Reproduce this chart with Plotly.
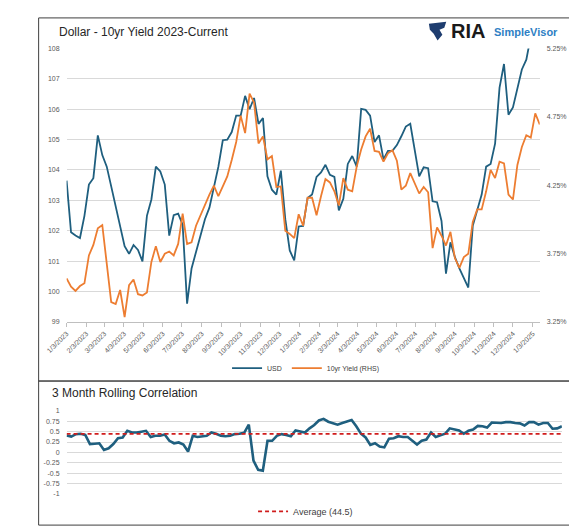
import pandas as pd
import plotly.graph_objects as go

# ---------------------------------------------------------------------------
# Data (weekly from 1/3/2023)
# ---------------------------------------------------------------------------
START_DATE = "2023-01-03"

USD = [
    103.65, 101.95, 101.84, 101.76, 102.49, 103.52, 103.73, 105.14, 104.49, 104.11,
    103.46, 102.83, 102.16, 101.49, 101.24, 101.53, 101.37, 100.99, 102.49, 103.03,
    104.11, 103.95, 103.52, 101.84, 102.51, 102.56, 102.20, 99.60, 100.76, 101.30,
    101.84, 102.38, 102.76, 103.41, 104.10, 104.98, 105.00, 105.25, 105.79, 105.79,
    106.44, 106.00, 106.37, 105.52, 105.71, 103.79, 103.35, 103.19, 103.98, 102.38,
    101.35, 101.02, 102.14, 102.16, 103.08, 103.19, 103.77, 103.92, 104.17, 103.84,
    103.77, 102.67, 103.05, 104.20, 104.46, 104.11, 106.01, 105.98, 105.79, 104.92,
    105.14, 104.35, 104.63, 104.63, 104.82, 105.11, 105.43, 105.52, 104.60, 103.79,
    104.09, 104.06, 102.97, 102.94, 102.32, 100.59, 101.62, 101.13, 100.76, 100.43,
    100.13, 102.16, 102.65, 103.19, 104.11, 104.20, 104.87, 106.71, 107.49, 105.82,
    106.06, 106.71, 107.31, 107.63, 108.40, 108.70, 109.30,
]

YIELD_10Y = [
    3.568, 3.508, 3.476, 3.512, 3.532, 3.736, 3.813, 3.934, 3.958, 3.664,
    3.394, 3.380, 3.483, 3.284, 3.519, 3.560, 3.452, 3.443, 3.464, 3.688,
    3.804, 3.688, 3.748, 3.765, 3.736, 3.820, 4.042, 3.820, 3.832, 3.953,
    4.030, 4.109, 4.181, 4.246, 4.169, 4.241, 4.314, 4.434, 4.566, 4.759,
    4.631, 4.920, 4.855, 4.555, 4.607, 4.439, 4.463, 4.237, 4.241, 3.917,
    3.893, 3.862, 4.037, 3.953, 4.158, 4.158, 4.030, 4.169, 4.295, 4.270,
    4.205, 4.102, 4.302, 4.217, 4.205, 4.386, 4.511, 4.607, 4.663, 4.501,
    4.494, 4.422, 4.483, 4.506, 4.429, 4.217, 4.246, 4.338, 4.266, 4.189,
    4.237, 4.198, 3.789, 3.941, 3.880, 3.808, 3.909, 3.717, 3.645, 3.724,
    3.748, 3.981, 4.073, 4.073, 4.205, 4.362, 4.302, 4.422, 4.410, 4.181,
    4.145, 4.398, 4.530, 4.615, 4.598, 4.776, 4.694,
]

CORR_3M = [
    0.41, 0.38, 0.44, 0.45, 0.42, 0.20, 0.21, 0.22, 0.06, 0.10,
    0.20, 0.34, 0.36, 0.52, 0.48, 0.48, 0.50, 0.52, 0.37, 0.40,
    0.40, 0.43, 0.28, 0.22, 0.24, 0.19, 0.02, 0.40, 0.37, 0.39,
    0.40, 0.48, 0.45, 0.40, 0.39, 0.40, 0.44, 0.45, 0.47, 0.67,
    -0.20, -0.42, -0.44, 0.28, 0.28, 0.40, 0.44, 0.42, 0.39, 0.53,
    0.50, 0.48, 0.58, 0.66, 0.77, 0.81, 0.74, 0.70, 0.67, 0.71,
    0.75, 0.78, 0.63, 0.45, 0.36, 0.18, 0.22, 0.14, 0.12, 0.33,
    0.34, 0.39, 0.37, 0.37, 0.28, 0.19, 0.28, 0.31, 0.48, 0.37,
    0.41, 0.45, 0.58, 0.55, 0.53, 0.45, 0.52, 0.55, 0.64, 0.63,
    0.60, 0.72, 0.71, 0.71, 0.73, 0.73, 0.71, 0.70, 0.65, 0.73,
    0.73, 0.67, 0.71, 0.71, 0.57, 0.58, 0.63,
]
CORR_AVG = 0.445

X_TICK_LABELS = [
    "1/3/2023", "2/3/2023", "3/3/2023", "4/3/2023", "5/3/2023", "6/3/2023",
    "7/3/2023", "8/3/2023", "9/3/2023", "10/3/2023", "11/3/2023", "12/3/2023",
    "1/3/2024", "2/3/2024", "3/3/2024", "4/3/2024", "5/3/2024", "6/3/2024",
    "7/3/2024", "8/3/2024", "9/3/2024", "10/3/2024", "11/3/2024", "12/3/2024",
    "1/3/2025",
]
USD_TICKS = [99, 100, 101, 102, 103, 104, 105, 106, 107, 108]
YIELD_TICKS = [3.25, 3.75, 4.25, 4.75, 5.25]
CORR_TICKS = [1, 0.75, 0.5, 0.25, 0, -0.25, -0.5, -0.75, -1]

# ---------------------------------------------------------------------------
# Style
# ---------------------------------------------------------------------------
W, H = 577, 528
FONT = "Liberation Sans, Arial, sans-serif"
BLUE = "#1f5f7f"
ORANGE = "#ed7d31"
RED = "#d01c1c"
GRID = "#d9d9d9"
TICK = "#595959"
FRAME = "#3f3f3f"


def px(x):
    return x / W


def py(y):
    return 1 - y / H


dates = pd.date_range(START_DATE, periods=len(USD), freq="7D")
tick_dates = pd.to_datetime(X_TICK_LABELS, format="%m/%d/%Y")
idx = list(range(len(CORR_3M)))

fig = go.Figure()
fig.add_trace(go.Scatter(
    x=dates, y=USD, name="USD", mode="lines",
    line=dict(color=BLUE, width=1.8),
    xaxis="x", yaxis="y", legend="legend",
))
fig.add_trace(go.Scatter(
    x=dates, y=YIELD_10Y, name="10yr Yield (RHS)", mode="lines",
    line=dict(color=ORANGE, width=1.8),
    xaxis="x", yaxis="y2", legend="legend",
))
fig.add_trace(go.Scatter(
    x=idx, y=CORR_3M, mode="lines", showlegend=False,
    line=dict(color=BLUE, width=2.6),
    xaxis="x2", yaxis="y3",
))
fig.add_trace(go.Scatter(
    x=[idx[0], idx[-1]], y=[CORR_AVG, CORR_AVG], name="Average (44.5)",
    mode="lines", line=dict(color=RED, width=1.8, dash="4px,3px"),
    xaxis="x2", yaxis="y3", legend="legend2",
))

tickfont = dict(family=FONT, size=7, color=TICK)

fig.update_layout(
    width=W, height=H, autosize=False,
    margin=dict(l=0, r=0, t=0, b=0),
    paper_bgcolor="white", plot_bgcolor="white",
    font=dict(family=FONT),
    xaxis=dict(
        domain=[px(39), px(530)], anchor="y", type="date",
        range=[dates[0], dates[-1]],
        tickvals=tick_dates, ticktext=X_TICK_LABELS, tickangle=-45,
        tickfont=tickfont, ticks="outside", ticklen=4, tickcolor="#bfbfbf",
        showline=True, linecolor="#bfbfbf", showgrid=False, zeroline=False,
    ),
    yaxis=dict(
        domain=[py(314), py(37)], anchor="x", range=[99, 108],
        tickvals=USD_TICKS, tickfont=tickfont, gridcolor=GRID,
        zeroline=False, showline=False, ticklabelstandoff=6,
    ),
    yaxis2=dict(
        overlaying="y", side="right", anchor="x", range=[3.25, 5.25],
        tickvals=YIELD_TICKS, ticktext=[f"{v:.2f}%" for v in YIELD_TICKS],
        tickfont=tickfont, showgrid=False, zeroline=False, showline=False,
        ticklabelstandoff=6,
    ),
    xaxis2=dict(
        domain=[px(39), px(553)], anchor="y3", range=[idx[0], idx[-1]],
        visible=False,
    ),
    yaxis3=dict(
        domain=[py(488.3), py(404.3)], anchor="x2", range=[-1, 1],
        tickvals=CORR_TICKS, ticktext=[f"{v:g}" for v in CORR_TICKS],
        tickfont=tickfont, gridcolor=GRID, zeroline=False, showline=False,
        ticklabelstandoff=6,
    ),
    legend=dict(
        orientation="h", x=px(287), xanchor="center", y=py(361), yanchor="middle",
        font=dict(family=FONT, size=7, color="#404040"), bgcolor="rgba(0,0,0,0)",
        itemwidth=30,
    ),
    legend2=dict(
        orientation="h", x=px(287), xanchor="center", y=py(506), yanchor="middle",
        font=dict(family=FONT, size=9, color="#404040"), bgcolor="rgba(0,0,0,0)",
        itemwidth=30,
    ),
    showlegend=True,
)

# panel frames
fig.add_shape(type="rect", xref="paper", yref="paper",
              x0=px(10), x1=px(562), y0=py(374), y1=py(6),
              line=dict(color=FRAME, width=1))
fig.add_shape(type="rect", xref="paper", yref="paper",
              x0=px(10), x1=px(563), y0=py(520), y1=py(374),
              line=dict(color=FRAME, width=1))

# titles
fig.add_annotation(text="Dollar - 10yr Yield 2023-Current", xref="paper", yref="paper",
                   x=px(29), y=py(20), xanchor="left", yanchor="middle", showarrow=False,
                   font=dict(family=FONT, size=12, color="#262626"))
fig.add_annotation(text="3 Month Rolling Correlation", xref="paper", yref="paper",
                   x=px(22), y=py(386), xanchor="left", yanchor="middle", showarrow=False,
                   font=dict(family=FONT, size=12, color="#262626"))

# logo: simple eagle-ish mark + text
pts = [(415, 12), (433, 10), (431, 16), (426, 18), (429, 23), (424, 29), (420, 22), (416, 18)]
path = "M " + " L ".join(f"{px(x)},{py(y)}" for x, y in pts) + " Z"
fig.add_shape(type="path", xref="paper", yref="paper", path=path,
              fillcolor="#1e3d6f", line=dict(width=0))
fig.add_annotation(text="<b>RIA</b>", xref="paper", yref="paper",
                   x=px(436), y=py(19), xanchor="left", yanchor="middle", showarrow=False,
                   font=dict(family=FONT, size=20, color="#1a1a1a"))
fig.add_annotation(text="<b>SimpleVisor</b>", xref="paper", yref="paper",
                   x=px(481), y=py(20), xanchor="left", yanchor="middle", showarrow=False,
                   font=dict(family=FONT, size=11, color="#2f7fc4"))

fig.write_html("out.html")
